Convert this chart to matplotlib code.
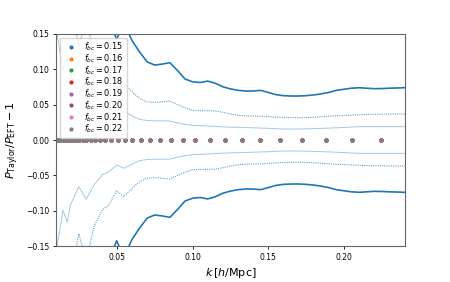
import numpy as np
import matplotlib
matplotlib.use("Agg")
import matplotlib.pyplot as plt

# k grid of the theory curves
k_lines = [0.0096, 0.0105, 0.0144, 0.0171, 0.0193, 0.0248, 0.0297, 0.0348, 0.0403,
           0.0447, 0.0498, 0.0546, 0.060, 0.065, 0.070, 0.075, 0.080, 0.085,
           0.090, 0.095, 0.100, 0.105, 0.110, 0.115, 0.120, 0.125, 0.130,
           0.135, 0.140, 0.145, 0.150, 0.155, 0.160, 0.165, 0.170, 0.175,
           0.180, 0.185, 0.190, 0.195, 0.200, 0.205, 0.210, 0.215, 0.220,
           0.225, 0.230, 0.235, 0.2405]

# lower envelopes (upper ones are the mirror image)
err_thin = [-0.16, -0.149, -0.0986, -0.116, -0.0915, -0.0658, -0.0835, -0.0634, -0.049,
            -0.0446, -0.0352, -0.0399, -0.034, -0.0291, -0.0275, -0.027, -0.027, -0.0268,
            -0.024, -0.022, -0.0207, -0.0202, -0.0197, -0.019, -0.0185, -0.0181, -0.0178,
            -0.0175, -0.0172, -0.0168, -0.0165, -0.016, -0.0155, -0.0155, -0.0155, -0.0157,
            -0.016, -0.0164, -0.0168, -0.0172, -0.0177, -0.0183, -0.0188, -0.0188, -0.0188,
            -0.0188, -0.0188, -0.0188, -0.0188]
err_mid = [-0.2, -0.2, -0.2, -0.2, -0.196, -0.132, -0.17, -0.122, -0.0986,
           -0.0915, -0.0718, -0.0798, -0.068, -0.0585, -0.0535, -0.053, -0.054, -0.0549,
           -0.050, -0.0455, -0.0418, -0.0413, -0.0413, -0.041, -0.039, -0.0366, -0.035,
           -0.034, -0.0338, -0.0335, -0.033, -0.0322, -0.0319, -0.0316, -0.0314, -0.0316,
           -0.032, -0.0328, -0.0336, -0.0342, -0.0347, -0.0352, -0.0357, -0.036, -0.0362,
           -0.0364, -0.0365, -0.0366, -0.0366]
err_dark = [-0.2, -0.2, -0.2, -0.2, -0.2, -0.2, -0.2, -0.2, -0.2,
            -0.17, -0.142, -0.165, -0.14, -0.124, -0.110, -0.1056, -0.107, -0.109,
            -0.098, -0.086, -0.082, -0.081, -0.083, -0.080, -0.075, -0.072, -0.070,
            -0.069, -0.069, -0.070, -0.067, -0.064, -0.0625, -0.062, -0.062, -0.0625,
            -0.0635, -0.065, -0.067, -0.070, -0.0715, -0.073, -0.0737, -0.073, -0.0723,
            -0.0725, -0.073, -0.0733, -0.0737]

# k bins of the ratio points
k_dots = [0.0095, 0.0104, 0.0114, 0.0124, 0.0135, 0.0148, 0.0161, 0.0176, 0.0192,
          0.0210, 0.0229, 0.0250, 0.0273, 0.0298, 0.0326, 0.0356, 0.0388, 0.0424,
          0.0463, 0.0505, 0.0552, 0.0602, 0.0657, 0.0718, 0.0783, 0.0855, 0.0934,
          0.1019, 0.1113, 0.1215, 0.1326, 0.1448, 0.1580, 0.1725, 0.1884, 0.2056,
          0.2245]
f_bc = [0.15, 0.16, 0.17, 0.18, 0.19, 0.20, 0.21, 0.22]

k = np.array(k_lines)
kd = np.array(k_dots)

fig, ax = plt.subplots(figsize=(4.5, 2.82), dpi=100)
fig.subplots_adjust(left=0.124, right=0.9, bottom=0.126, top=0.881)

for lo, ls, lw, a in [(err_thin, "-", 0.7, 0.4), (err_mid, (0, (1, 1)), 0.8, 0.7), (err_dark, "-", 1.2, 1.0)]:
    lo = np.array(lo)
    ax.plot(k, lo, color="C0", ls=ls, lw=lw, alpha=a)
    ax.plot(k, -lo, color="C0", ls=ls, lw=lw, alpha=a)

for i, f in enumerate(f_bc):
    ax.plot(kd, np.zeros_like(kd), "o", ms=2, color="C%d" % i, label=r"$f_{bc}=%.2f$" % f)

ax.set_xlim(0.0096, 0.2404)
ax.set_ylim(-0.15, 0.15)
ax.set_xticks([0.05, 0.10, 0.15, 0.20])
ax.set_yticks([-0.15, -0.10, -0.05, 0.00, 0.05, 0.10, 0.15])
ax.tick_params(labelsize=5.5, length=2.5, width=0.6, pad=2)
for s in ax.spines.values():
    s.set_linewidth(0.8)
    s.set_color("0.4")
ax.set_xlabel(r"$k\,[h/{\rm Mpc}]$", fontsize=8, labelpad=3)
ax.set_ylabel(r"$P_{\rm Taylor}/P_{\rm EFT}-1$", fontsize=8, labelpad=4)
ax.legend(loc="upper left", fontsize=5.9, borderpad=0.4, labelspacing=-0.1,
          handletextpad=0.6)

fig.savefig("out.png", dpi=100)
